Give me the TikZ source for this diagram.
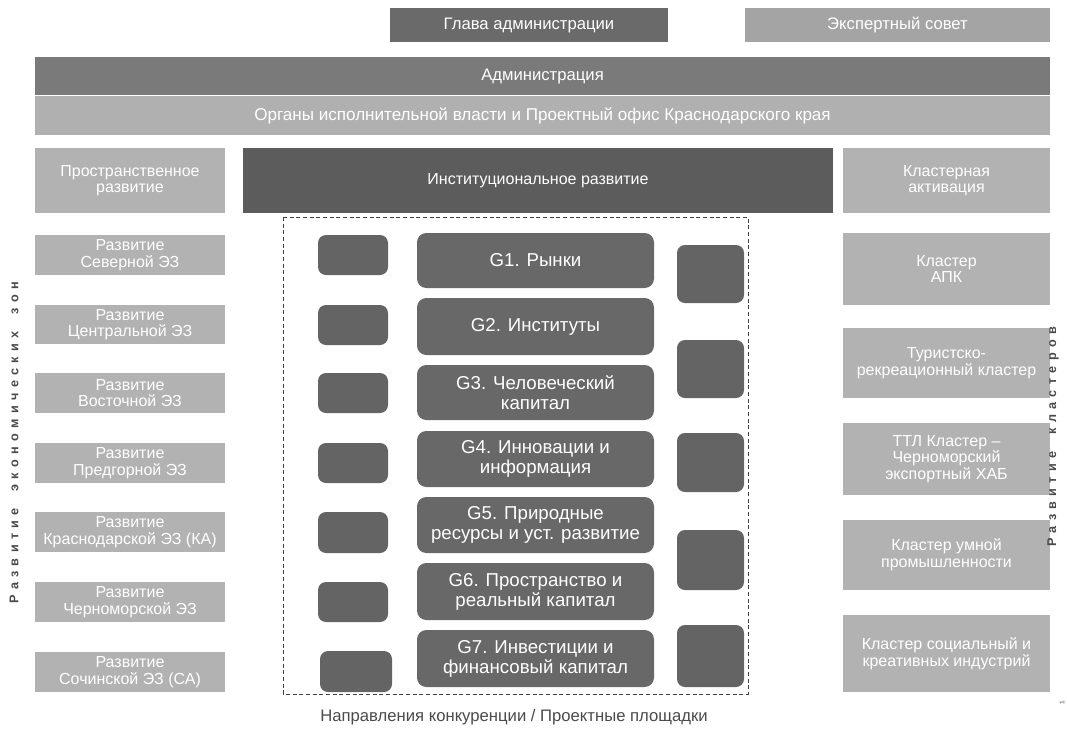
\documentclass[tikz,border=0pt]{standalone}
\usepackage{fontspec}
\setmainfont{Liberation Sans}
\definecolor{gTop}{HTML}{6A6A6A}
\definecolor{gExp}{HTML}{A4A4A4}
\definecolor{gAdm}{HTML}{7A7A7A}
\definecolor{gOrg}{HTML}{B0B0B0}
\definecolor{gSide}{HTML}{B2B2B2}
\definecolor{gInst}{HTML}{5C5C5C}
\definecolor{gG}{HTML}{686868}
\definecolor{gSq}{HTML}{646464}
\definecolor{gTxt}{HTML}{4A4A4A}
\newcommand\mkbox[7]{%
  \pgfmathsetmacro\bw{(#5-#3)*0.75}%
  \pgfmathsetmacro\bh{(#6-#4)*0.75}%
  \node[#2, minimum width=\bw pt, minimum height=\bh pt] (#1) at ({(#3+#5)/2},{(#4+#6)/2}) {#7};}
\tikzset{
  base/.style={inner sep=0pt, outer sep=0pt, align=center, text=white},
  topdark/.style={base, fill=gTop, font=\fontsize{12.5}{13}\selectfont},
  toplight/.style={base, fill=gExp, font=\fontsize{12.5}{13}\selectfont},
  admbar/.style={base, fill=gAdm, font=\fontsize{12.5}{13}\selectfont},
  orgbar/.style={base, fill=gOrg, font=\fontsize{12.8}{13}\selectfont},
  sidebox/.style={base, fill=gSide, font=\fontsize{12}{12.5}\selectfont},
  instbox/.style={base, fill=gInst, font=\fontsize{12}{13}\selectfont},
  gbox/.style={base, fill=gG, rounded corners=7pt, font=\fontsize{14}{15}\selectfont},
  sqbox/.style={base, fill=gSq, rounded corners=6pt},
  frame/.style={draw=black!75, line width=0.7pt, dash pattern=on 3pt off 2pt},
  vlabel/.style={text=gTxt, font=\fontsize{9.5}{10}\selectfont\bfseries, rotate=90, inner sep=0pt},
  caption/.style={text=gTxt, font=\fontsize{12.5}{13}\selectfont, inner sep=0pt}
}
\begin{document}
\begin{tikzpicture}[x=0.75pt, y=-0.75pt]
\useasboundingbox (0,0) rectangle (1067,729);
% top
\mkbox{glava}{topdark}{390}{8}{668}{42}{Глава администрации}
\mkbox{expert}{toplight}{745}{8}{1050}{42}{Экспертный совет}
\mkbox{adm}{admbar}{35}{57}{1050}{95}{Администрация}
\mkbox{org}{orgbar}{35}{96}{1050}{135}{Органы исполнительной власти и Проектный офис Краснодарского края}
% second row
\mkbox{prost}{sidebox}{35}{148}{225}{213}{Пространственное\\развитие}
\mkbox{inst}{instbox}{243}{148}{833}{213}{Институциональное развитие}
\mkbox{klakt}{sidebox}{843}{148}{1050}{213}{Кластерная\\активация}
% left column
\mkbox{z1}{sidebox}{35}{235}{225}{275}{Развитие\\Северной ЭЗ}
\mkbox{z2}{sidebox}{35}{305}{225}{344}{Развитие\\Центральной ЭЗ}
\mkbox{z3}{sidebox}{35}{373}{225}{413}{Развитие\\Восточной ЭЗ}
\mkbox{z4}{sidebox}{35}{443}{225}{483}{Развитие\\Предгорной ЭЗ}
\mkbox{z5}{sidebox}{35}{512}{225}{552}{Развитие\\Краснодарской ЭЗ (КА)}
\mkbox{z6}{sidebox}{35}{582}{225}{622}{Развитие\\Черноморской ЭЗ}
\mkbox{z7}{sidebox}{35}{652}{225}{692}{Развитие\\Сочинской ЭЗ (СА)}
% right column
\mkbox{k1}{sidebox}{843}{233}{1050}{305}{Кластер\\АПК}
\mkbox{k2}{sidebox}{843}{328}{1050}{398}{Туристско-\\рекреационный кластер}
\mkbox{k3}{sidebox}{843}{423}{1050}{495}{ТТЛ Кластер –\\Черноморский\\экспортный ХАБ}
\mkbox{k4}{sidebox}{843}{520}{1050}{590}{Кластер умной\\промышленности}
\mkbox{k5}{sidebox}{843}{615}{1050}{692}{Кластер социальный и\\креативных индустрий}
% dashed frame
\coordinate (fr1) at (283,217);
\coordinate (fr2) at (748,694);
\draw[frame] (fr1) rectangle (fr2);
% left squares
\mkbox{s1}{sqbox}{318}{235}{388}{275}{}
\mkbox{s2}{sqbox}{318}{305}{388}{345}{}
\mkbox{s3}{sqbox}{318}{373}{388}{413}{}
\mkbox{s4}{sqbox}{318}{443}{388}{483}{}
\mkbox{s5}{sqbox}{318}{512}{388}{553}{}
\mkbox{s6}{sqbox}{318}{582}{388}{622}{}
\mkbox{s7}{sqbox}{320}{651}{392}{692}{}
% G boxes
\mkbox{g1}{gbox}{417}{233}{654}{288}{G1. Рынки}
\mkbox{g2}{gbox}{417}{298}{654}{355}{G2. Институты}
\mkbox{g3}{gbox}{417}{365}{654}{420}{G3. Человеческий\\капитал}
\mkbox{g4}{gbox}{417}{431}{654}{487}{G4. Инновации и\\информация}
\mkbox{g5}{gbox}{417}{497}{654}{553}{G5. Природные\\ресурсы и уст. развитие}
\mkbox{g6}{gbox}{417}{563}{654}{620}{G6. Пространство и\\реальный капитал}
\mkbox{g7}{gbox}{417}{630}{654}{687}{G7. Инвестиции и\\финансовый капитал}
% right squares
\mkbox{r1}{sqbox}{677}{245}{744}{303}{}
\mkbox{r2}{sqbox}{677}{340}{744}{398}{}
\mkbox{r3}{sqbox}{677}{433}{744}{492}{}
\mkbox{r4}{sqbox}{677}{530}{744}{590}{}
\mkbox{r5}{sqbox}{677}{625}{744}{687}{}
% labels
\node[caption] (cap) at (514,717) {Направления конкуренции / Проектные площадки};
\node[vlabel] (vl) at (14,443) {\spaceskip=0.42em plus 0pt minus 0pt Р а з в и т и е\hspace{0.9em} э к о н о м и ч е с к и х\hspace{0.9em} з о н};
\node[vlabel] (vr) at (1053,437) {\spaceskip=0.42em plus 0pt minus 0pt Р а з в и т и е\hspace{0.9em} к л а с т е р о в};
\node[text=gTxt, font=\fontsize{5}{5}\selectfont, rotate=90, inner sep=0pt] (pg) at (1062,703) {1};
\end{tikzpicture}
\end{document}
